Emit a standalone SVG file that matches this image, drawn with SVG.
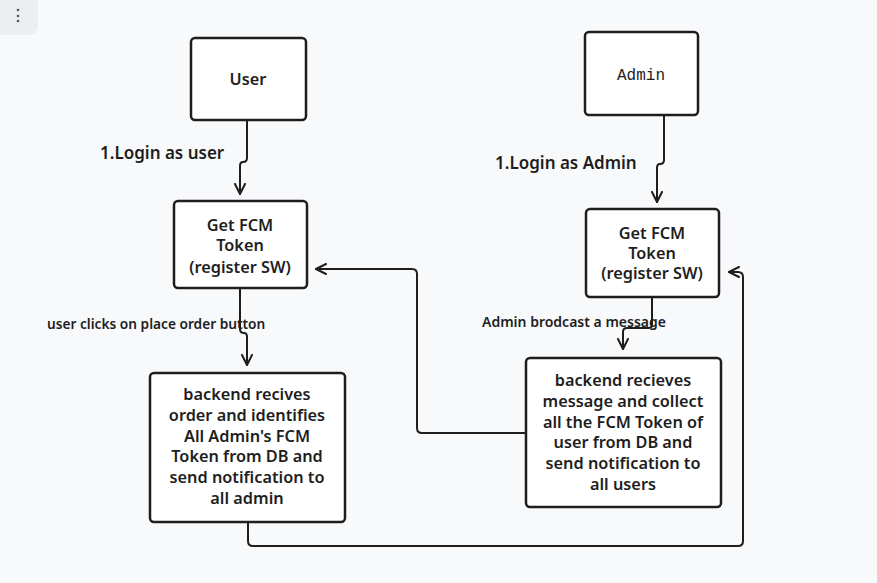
<svg xmlns="http://www.w3.org/2000/svg" width="877" height="583" viewBox="0 0 877 583">
<defs>
<style>
.box{fill:#ffffff;stroke:#1e1e1e;stroke-width:2.5}
.t{font-family:"Noto Sans","Liberation Sans",sans-serif;font-size:16.3px;font-weight:600;fill:#1e1e1e;text-anchor:middle}
.m{font-family:"Liberation Mono","DejaVu Sans Mono",monospace;font-size:16px;fill:#1e1e1e;text-anchor:middle}
.lbl{font-family:"Noto Sans","Liberation Sans",sans-serif;font-weight:600;fill:#1e1e1e}
.c{fill:none;stroke:#1e1e1e;stroke-width:2;stroke-linecap:round;stroke-linejoin:round}
</style>
<marker id="ah" viewBox="0 0 12 12" refX="11" refY="6" markerWidth="12" markerHeight="12" markerUnits="userSpaceOnUse" orient="auto">
<path d="M1,1 L11,6 L1,11" fill="none" stroke="#1e1e1e" stroke-width="2" stroke-linecap="round" stroke-linejoin="round"/>
</marker>
</defs>
<rect x="0" y="0" width="877" height="583" fill="#f8f9fb"/>
<g id="menu">
<rect x="-10" y="-10" width="48" height="45" rx="9" fill="#eceef2"/>
<circle cx="18" cy="10" r="1.3" fill="#555"/>
<circle cx="18" cy="16" r="1.3" fill="#555"/>
<circle cx="18" cy="21" r="1.3" fill="#555"/>
</g>
<g id="connectors">
<path class="c" d="M247,121 L247,158 Q247,162 243,162 Q240,162 240,166 L240,194" marker-end="url(#ah)"/>
<path class="c" d="M664,116 L664,160 Q664,164 660,164 Q657,164 657,168 L657,202" marker-end="url(#ah)"/>
<path class="c" d="M240,289 L240,329 Q240,333 244,333 Q247,333 247,337 L247,365" marker-end="url(#ah)"/>
<path class="c" d="M652,298 L652,325 Q652,328 648,328 L627,328 Q623,328 623,332 L623,349" marker-end="url(#ah)"/>
<path class="c" d="M526,433 L422,433 Q417,433 417,428 L417,274 Q417,269 412,269 L316,269" marker-end="url(#ah)"/>
<path class="c" d="M248,523 L248,541 Q248,546 253,546 L738,546 Q743,546 743,541 L743,277 Q743,272 738,272 L729,272" marker-end="url(#ah)"/>
<text class="lbl" x="100" y="159" font-size="17">1.Login as user</text>
<text class="lbl" x="495" y="169" font-size="17">1.Login as Admin</text>
<text class="lbl" x="47" y="329" font-size="13.7">user clicks on place order button</text>
<text class="lbl" x="482" y="327" font-size="14">Admin brodcast a message</text>
</g>
<g id="user">
<rect class="box" x="191" y="38" width="115" height="82" rx="4"/>
<text class="t" x="248" y="85">User</text>
</g>
<g id="admin">
<rect class="box" x="585" y="32" width="113" height="83" rx="4"/>
<text class="m" x="641" y="80">Admin</text>
</g>
<g id="fcm-user">
<rect class="box" x="174" y="201" width="133" height="87" rx="4"/>
<text class="t" x="240" y="231">Get FCM</text>
<text class="t" x="240" y="251">Token</text>
<text class="t" x="240" y="273">(register SW)</text>
</g>
<g id="fcm-admin">
<rect class="box" x="586" y="209" width="133" height="88" rx="4"/>
<text class="t" x="652" y="239">Get FCM</text>
<text class="t" x="652" y="259">Token</text>
<text class="t" x="652" y="279">(register SW)</text>
</g>
<g id="backend-user">
<rect class="box" x="150" y="373" width="195" height="149" rx="4"/>
<text class="t" x="247" y="400">backend recives</text>
<text class="t" x="247" y="421">order and identifies</text>
<text class="t" x="247" y="442">All Admin's FCM</text>
<text class="t" x="247" y="462">Token from DB and</text>
<text class="t" x="247" y="483">send notification to</text>
<text class="t" x="247" y="504">all admin</text>
</g>
<g id="backend-admin">
<rect class="box" x="526" y="358" width="195" height="149" rx="4"/>
<text class="t" x="623" y="386">backend recieves</text>
<text class="t" x="623" y="407">message and collect</text>
<text class="t" x="623" y="428">all the FCM Token of</text>
<text class="t" x="623" y="448">user from DB and</text>
<text class="t" x="623" y="469">send notification to</text>
<text class="t" x="623" y="490">all users</text>
</g>
</svg>
